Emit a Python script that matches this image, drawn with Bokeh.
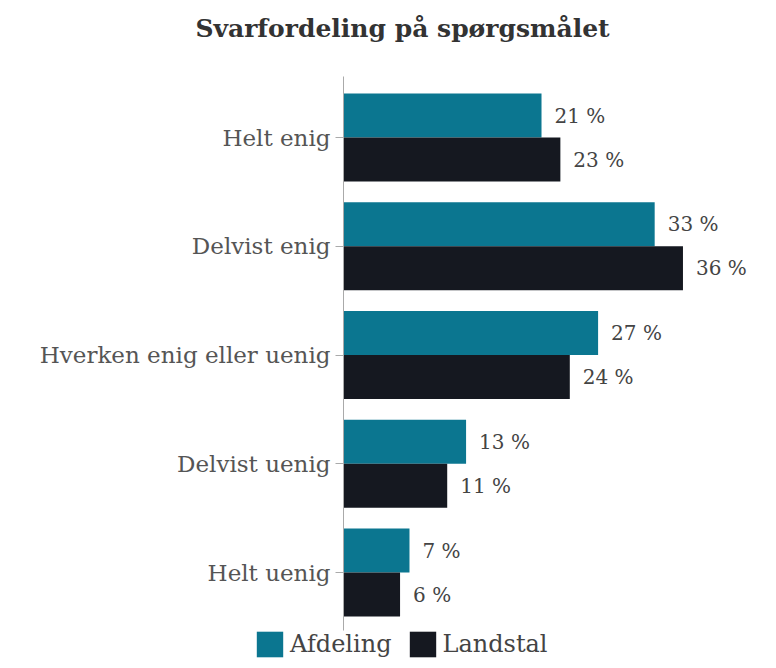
from bokeh.plotting import figure
from bokeh.models import (ColumnDataSource, Range1d, Legend, LegendItem, Label,
                          LinearAxis, FixedTicker)
from bokeh.transform import dodge
from bokeh.core.properties import value
from bokeh.embed import file_html
from bokeh.resources import INLINE

categories = ["Helt enig", "Delvist enig", "Hverken enig eller uenig", "Delvist uenig", "Helt uenig"]
afdeling = [21, 33, 27, 13, 7]
landstal = [23, 36, 24, 11, 6]
series_names = ["Afdeling", "Landstal"]
title_text = "Svarfordeling på spørgsmålet"
colors = ["#0b7690", "#151820"]

FONT = "DejaVu Serif"

ypos = [len(categories) - 1 - i for i in range(len(categories))]

src = ColumnDataSource(dict(
    ypos=ypos,
    afd=afdeling,
    land=landstal,
    afd_lbl=[f"{v} %" for v in afdeling],
    land_lbl=[f"{v} %" for v in landstal],
))

W, H = 768, 660
p = figure(width=W, height=H, output_backend="svg", toolbar_location=None,
           x_range=Range1d(-36.37, 45.07), y_range=Range1d(-0.809, 5.26),
           x_axis_location=None, y_axis_location=None,
           min_border=0, min_border_left=0, min_border_right=0,
           min_border_top=0, min_border_bottom=0)

bh = 0.405
r1 = p.hbar(y=dodge("ypos", bh / 2), right="afd", left=0, height=bh,
            source=src, color=colors[0], line_color=None)
r2 = p.hbar(y=dodge("ypos", -bh / 2), right="land", left=0, height=bh,
            source=src, color=colors[1], line_color=None)

p.text(x="afd", y=dodge("ypos", bh / 2), text="afd_lbl", source=src,
       x_offset=13, text_baseline="middle", text_font=value(FONT), text_font_size="20px",
       text_color="#444444")
p.text(x="land", y=dodge("ypos", -bh / 2), text="land_lbl", source=src,
       x_offset=13, text_baseline="middle", text_font=value(FONT), text_font_size="20px",
       text_color="#444444")

p.xgrid.visible = False
p.ygrid.visible = False
p.outline_line_color = None

ya = LinearAxis(fixed_location=0, ticker=FixedTicker(ticks=ypos),
                major_label_overrides={y: c for y, c in zip(ypos, categories)},
                bounds=(-0.533, 4.56))
ya.axis_line_color = "#aaaaaa"
ya.major_tick_line_color = "#aaaaaa"
ya.major_tick_out = 8
ya.major_tick_in = 0
ya.minor_tick_line_color = None
ya.major_label_standoff = 5
ya.major_label_text_font = FONT
ya.major_label_text_font_size = "23px"
ya.major_label_text_color = "#555555"
p.add_layout(ya, "left")

p.add_layout(Label(x=402, y=H - 28, x_units="screen", y_units="screen",
                   text=title_text, text_align="center", text_baseline="middle",
                   text_font=FONT, text_font_size="25px", text_font_style="bold",
                   text_color="#333333"))

legend = Legend(items=[LegendItem(label=series_names[0], renderers=[r1]),
                       LegendItem(label=series_names[1], renderers=[r2])],
                orientation="horizontal", location=(253, 0),
                glyph_width=33, glyph_height=32, label_text_font=FONT,
                label_text_font_size="24px", label_text_color="#444444",
                label_standoff=4, spacing=14, padding=0, margin=0,
                border_line_color=None, background_fill_alpha=0)
p.add_layout(legend)

open("out.html", "w").write(file_html(p, INLINE))
